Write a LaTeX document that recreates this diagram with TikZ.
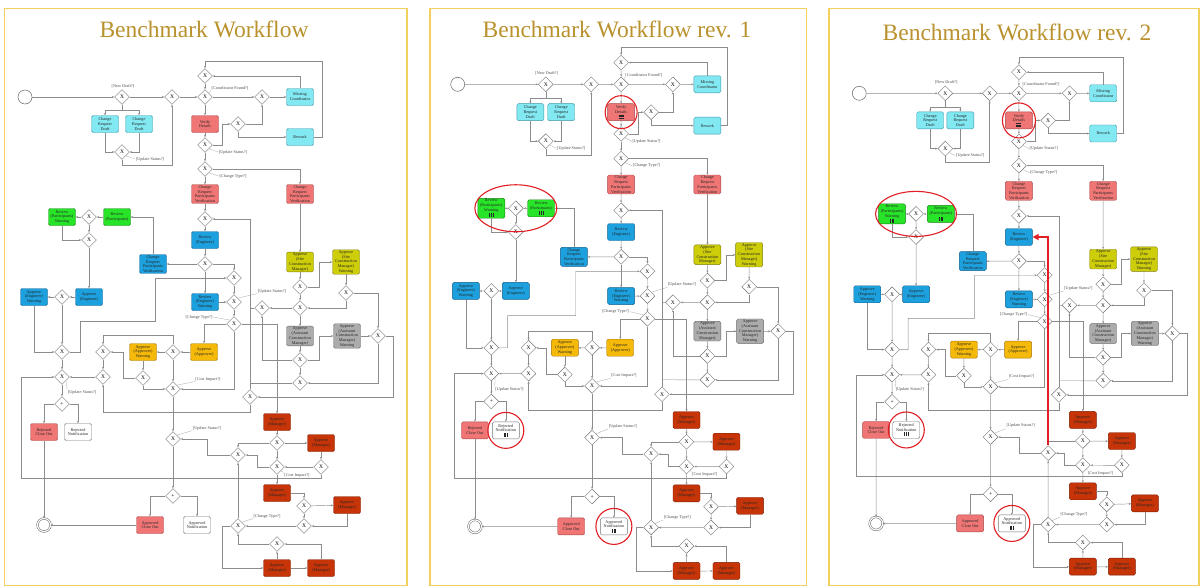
\documentclass[tikz,border=0pt]{standalone}
\usepackage{fontspec}
\setmainfont{Liberation Serif}
\usepackage{tikz}
\usetikzlibrary{shapes.geometric,arrows.meta}

\definecolor{titlegold}{RGB}{185,145,45}
\definecolor{framegold}{RGB}{242,208,95}
\definecolor{cyanf}{RGB}{130,232,242}
\definecolor{cyand}{RGB}{60,150,165}
\definecolor{salmonf}{RGB}{240,118,118}
\definecolor{salmond}{RGB}{165,70,70}
\definecolor{greenf}{RGB}{40,228,40}
\definecolor{greend}{RGB}{25,130,25}
\definecolor{bluef}{RGB}{28,160,222}
\definecolor{blued}{RGB}{20,95,140}
\definecolor{olivef}{RGB}{205,205,10}
\definecolor{olived}{RGB}{125,125,10}
\definecolor{greyf}{RGB}{172,172,172}
\definecolor{greyd}{RGB}{105,105,105}
\definecolor{orangef}{RGB}{245,185,10}
\definecolor{oranged}{RGB}{165,115,10}
\definecolor{rustf}{RGB}{198,52,8}
\definecolor{rustd}{RGB}{125,30,5}
\definecolor{hired}{RGB}{225,30,35}

\tikzset{
  task/.style={rounded corners=1.5pt, line width=0.4pt, minimum width=27, minimum height=17,
    inner sep=0.8pt, align=center, font=\fontsize{4.2}{4.8}\selectfont, text=black!85},
  tcyan/.style={task, draw=cyand, fill=cyanf},
  tsalmon/.style={task, draw=salmond, fill=salmonf},
  tgreen/.style={task, draw=greend, fill=greenf},
  tblue/.style={task, draw=blued, fill=bluef},
  tolive/.style={task, draw=olived, fill=olivef},
  tgrey/.style={task, draw=greyd, fill=greyf},
  torange/.style={task, draw=oranged, fill=orangef},
  trust/.style={task, draw=rustd, fill=rustf},
  twhite/.style={task, draw=black!55, fill=white},
  gate/.style={diamond, draw=black!55, fill=white, line width=0.4pt, minimum size=15,
    inner sep=0pt, font=\fontsize{5.5}{5.5}\selectfont},
  startev/.style={circle, draw=black!60, line width=0.5pt, minimum size=14, fill=white},
  endevent/.style={circle, draw=black!60, line width=0.5pt, double=white,
    double distance=1.2pt, minimum size=13},
  flow/.style={draw=black!45, line width=0.45pt, -{Stealth[length=2.4pt,width=2pt]}},
  link/.style={draw=black!45, line width=0.45pt},
  lbl/.style={font=\fontsize{4.2}{4.2}\selectfont, text=black!70, inner sep=0.5pt},
  leader/.style={draw=black!35, line width=0.3pt},
  wframe/.style={draw=framegold, line width=1.2pt},
  wtitle/.style={font=\fontsize{23.5}{23.5}\selectfont, text=titlegold},
  hl/.style={draw=hired, line width=1.1pt},
  redflow/.style={draw=hired, line width=1.6pt, -{Triangle[length=6pt,width=6pt]}},
}

% task markers, empty in the first workflow
\newcommand{\parmark}{}
\newcommand{\seqmark}{}
\newcommand{\parbars}{\rule{0.7pt}{4pt}\hspace{1pt}\rule{0.7pt}{4pt}\hspace{1pt}\rule{0.7pt}{4pt}}
\newcommand{\seqbars}{\vbox{\hrule width 5pt height 0.6pt\vskip 0.9pt\hrule width 5pt height 0.6pt\vskip 0.9pt\hrule width 5pt height 0.6pt}}

\newcommand{\drawworkflow}{%
  % draft / coordinator
  \node[startev] (start) at (25,97) {};
  \node[gate] (g1) at (122,97) {X};
  \node[gate] (g2) at (172,97) {X};
  \node[gate] (g3) at (205,97) {X};
  \node[gate] (g4) at (205,76) {X};
  \node[gate] (g5) at (262,97) {X};
  \node[tcyan] (mcoord) at (300,97) {Missing\\Coordinator};
  \node[tcyan] (crd1) at (105,124) {Change\\Request\\Draft};
  \node[tcyan] (crd2) at (139,124) {Change\\Request\\Draft};
  \node[tsalmon] (verify) at (205,124) {Verify\\Details\seqmark};
  \node[gate] (g6) at (238,124) {X};
  \node[tcyan] (rework) at (300,137) {Rework};
  \node[gate] (g7) at (205,145) {X};
  \node[gate] (g8) at (122,152) {X};
  \node[gate] (g9) at (205,169) {X};
  \node[tsalmon] (crpva) at (205,194) {Change\\Request\\Participants\\Verification};
  \node[tsalmon] (crpvb) at (300,194) {Change\\Request\\Participants\\Verification};
  % participants / engineer
  \node[tgreen] (revpw) at (62,217) {Review\\(Participants)\\Warning\parmark};
  \node[gate] (p1) at (89,217) {X};
  \node[tgreen] (revp) at (117,217) {Review\\(Participants)\parmark};
  \node[gate] (p2) at (89,240) {X};
  \node[gate] (h1) at (205,219) {X};
  \node[tblue] (reveng) at (205,240) {Review\\(Engineer)};
  \node[gate] (h2) at (205,264) {X};
  \node[tblue] (crpvc) at (153,264) {Change\\Request\\Participants\\Verification};
  \node[gate] (h3) at (234,278) {X};
  \node[tblue] (revengw) at (205,302) {Review\\(Engineer)\\Warning};
  \node[gate] (h4) at (234,302) {X};
  \node[gate] (h5) at (234,324) {X};
  \node[tblue] (appengw) at (34,297) {Approve\\(Engineer)\\Warning};
  \node[gate] (e1) at (62,297) {X};
  \node[tblue] (appeng) at (89,297) {Approve\\(Engineer)};
  \node[gate] (e2) at (62,352) {X};
  \node[gate] (e3) at (62,377) {X};
  \node[gate] (plusr) at (62,404) {+};
  \node[tsalmon] (rejclose) at (44,432) {Rejected\\Close Out};
  \node[twhite] (rejnote) at (78,432) {Rejected\\Notification\parmark};
  \node[endevent] (finish) at (44,525) {};
  % site / assistant construction manager
  \node[tolive] (appsite) at (300,262) {Approve\\(Site\\Construction\\Manager)};
  \node[tolive] (appsitew) at (346,262) {Approve\\(Site\\Construction\\Manager)\\Warning};
  \node[gate] (s1) at (300,287) {X};
  \node[gate] (s2) at (346,293) {X};
  \node[gate] (s3) at (300,308) {X};
  \node[gate] (s4) at (262,308) {X};
  \node[tgrey] (appasst) at (300,336) {Approve\\(Assistant\\Construction\\Manager)};
  \node[tgrey] (appasstw) at (347,336) {Approve\\(Assistant\\Construction\\Manager)\\Warning};
  \node[gate] (s5) at (378,336) {X};
  \node[gate] (s6) at (300,360) {X};
  \node[gate] (s7) at (300,383) {X};
  \node[gate] (s8) at (250,397) {X};
  % approver
  \node[gate] (a1) at (103,352) {X};
  \node[torange] (appaprw) at (143,352) {Approve\\(Approver)\\Warning};
  \node[gate] (a2) at (173,352) {X};
  \node[torange] (appapr) at (204,352) {Approve\\(Approver)};
  \node[gate] (a3) at (103,377) {X};
  \node[gate] (a4) at (143,378) {X};
  \node[gate] (a5) at (173,389) {X};
  \node[gate] (a6) at (173,439) {X};
  \node[gate] (plusa) at (173,496) {+};
  \node[tsalmon] (appclose) at (150,525) {Approved\\Close Out};
  \node[twhite] (appnote) at (197,525) {Approved\\Notification\parmark};
  % manager
  \node[trust] (am1) at (277,422) {Approve\\(Manager)};
  \node[gate] (j1) at (277,443) {X};
  \node[trust] (am2) at (321,443) {Approve\\(Manager)};
  \node[gate] (j2) at (238,455) {X};
  \node[gate] (j4) at (277,467) {X};
  \node[gate] (j3) at (321,467) {X};
  \node[trust] (am3) at (277,493) {Approve\\(Manager)};
  \node[gate] (k1) at (304,506) {X};
  \node[trust] (am4) at (347,505) {Approve\\(Manager)};
  \node[gate] (k2) at (304,526) {X};
  \node[gate] (j5) at (238,526) {X};
  \node[gate] (k3) at (277,544) {X};
  \node[trust] (am5) at (277,568) {Approve\\(Manager)};
  \node[trust] (am6) at (321,568) {Approve\\(Manager)};
  % conditions
  \node[lbl] (lnew) at (123,86) {[New Draft?]};
  \node[lbl] (lcoord) at (230,88) {[Coordinator Found?]};
  \node[lbl] (lupd1) at (233,152) {[Update Status?]};
  \node[lbl] (lupd2) at (150,159) {[Update Status?]};
  \node[lbl] (lct1) at (233,176) {[Change Type?]};
  \node[lbl] (lupd3) at (272,291) {[Update Status?]};
  \node[lbl] (lct2) at (199,317) {[Change Type?]};
  \node[lbl] (lcost1) at (208,379) {[Cost Impact?]};
  \node[lbl] (lupd4) at (82,392) {[Update Status?]};
  \node[lbl] (lupd5) at (207,428) {[Update Status?]};
  \node[lbl] (lcost2) at (297,475) {[Cost Impact?]};
  \node[lbl] (lct3) at (267,516) {[Change Type?]};
  \draw[leader] (g3.north east) -- (lcoord.south west);
  \draw[leader] (g7.south east) -- (lupd1.west);
  \draw[leader] (g8.south east) -- (lupd2.west);
  \draw[leader] (g9.south east) -- (lct1.west);
  \draw[leader] (h4.north east) -- (lupd3.south west);
  \draw[leader] (h5.north west) -- (lct2.east);
  \draw[leader] (a5.north east) -- (lcost1.south west);
  \draw[leader] (e3.south east) -- (lupd4.north west);
  \draw[leader] (a6.north east) -- (lupd5.south west);
  \draw[leader] (j4.south east) -- (lcost2.north west);
  \draw[leader] (j5.north east) -- (lct3.south west);
  % sequence flows
  \draw[flow] (start) -- (g1);
  \draw[flow] (g1) -- (g2);
  \draw[flow] (g2) -- (g3);
  \draw[flow] (g3) -- (g5);
  \draw[flow] (g5) -- (mcoord);
  \draw[flow] (g1.south) -- ++(0,6) -| (crd1.north);
  \draw[flow] (g1.south) -- ++(0,6) -| (crd2.north);
  \draw[flow] (crd1.south) |- (g8.west);
  \draw[flow] (crd2.south) |- (g8.east);
  \draw[flow] (g8.south) -- ++(0,6) -| (g2.south);
  \draw[flow] (g4) -- (g3);
  \draw[flow] (mcoord.north) |- (g4.east);
  \draw[flow] (rework.east) -| (322,61) -| (g4.north);
  \draw[flow] (g3) -- (verify);
  \draw[flow] (verify) -- (g7);
  \draw[flow] (g7.east) -- ++(10,0) |- (g6.west);
  \draw[flow] (g6.east) -| (g5.south);
  \draw[flow] (g6.south) |- (rework.west);
  \draw[flow] (g7) -- (g9);
  \draw[flow] (g9) -- (crpva);
  \draw[flow] (g9.east) -| (crpvb.north);
  \draw[flow] (crpva) -- (h1);
  \draw[flow] (h1) -- (reveng);
  \draw[flow] (reveng) -- (h2);
  \draw[flow] (h2) -- (crpvc);
  \draw[flow] (h2) -- (revengw);
  \draw[flow] (h2.east) -| (h3.north);
  \draw[flow] (revengw) -- (h4);
  \draw[flow] (h3) -- (h4);
  \draw[flow] (h4) -- (h5);
  \draw[flow] (crpvc.north) |- (revp.east);
  \draw[flow] (revp) -- (p1);
  \draw[flow] (p1) -- (revpw);
  \draw[flow] (revpw.south) |- (p2.west);
  \draw[flow] (p1) -- (p2);
  \draw[flow] (p2) -- (appeng);
  \draw[flow] (appeng) -- (e1);
  \draw[flow] (e1) -- (appengw);
  \draw[flow] (e1) -- (e2);
  \draw[flow] (appengw.south) |- (e2.west);
  \draw[flow] (e2.east) -- (80,352) -- (80,321) -- (155,321) |- (h3.west);
  \draw[flow] (e2) -- (e3);
  \draw[flow] (e3) -- (plusr);
  \draw[flow] (plusr.west) -| (rejclose.north);
  \draw[flow] (plusr.east) -| (rejnote.north);
  \draw[flow] (rejclose) -- (finish);
  \draw[flow] (crpvb) -- (appsite);
  \draw[flow] (appsite) -- (s1);
  \draw[flow] (s1.east) -- ++(12,0) |- (appsitew.west);
  \draw[flow] (appsitew) -- (s2);
  \draw[flow] (s2.south) |- (s3.east);
  \draw[flow] (s1) -- (s3);
  \draw[flow] (s2.east) -| (s5.north);
  \draw[flow] (s3) -- (s4);
  \draw[flow] (s3) -- (appasst);
  \draw[flow] (appasst) -- (s6);
  \draw[flow] (s6.east) -- ++(12,0) |- (appasstw.west);
  \draw[flow] (appasstw) -- (s5);
  \draw[flow] (s6) -- (s7);
  \draw[flow] (s5.south) |- (s7.east);
  \draw[flow] (s6.west) -| (s4.south);
  \draw[link] (s4.west) -- (250,308);
  \draw[link] (s7.west) -- (250,383);
  \draw[flow] (s8.north) |- (h1.east);
  \draw[flow] (s5.east) -- ++(8,0) |- (s8.east);
  \draw[flow] (s8.south) -- ++(0,8) -| (a3.south);
  \draw[flow] (appapr) -- (a2);
  \draw[flow] (a2) -- (appaprw);
  \draw[flow] (appaprw) -- (a4);
  \draw[flow] (a4.west) -- ++(-12,0) |- (a1.east);
  \draw[flow] (a2.north) -- ++(0,-9) -| (a1.north);
  \draw[flow] (a1) -- (a3);
  \draw[flow] (a3) -- (e3);
  \draw[flow] (a4.south) |- (a5.west);
  \draw[flow] (a2) -- (a5);
  \draw[flow] (h5.south) |- (a5.east);
  \draw[flow] (h5.west) -| (appapr.north);
  \draw[flow] (h5.east) -| (am1.north);
  \draw[flow] (a5) -- (a6);
  \draw[flow] (a6) -- (plusa);
  \draw[flow] (plusa.west) -| (appclose.north);
  \draw[flow] (plusa.east) -| (appnote.north);
  \draw[flow] (appclose) -- (finish);
  \draw[flow] (am1) -- (j1);
  \draw[flow] (j1) -- (am2);
  \draw[flow] (j1.west) -| (j2.north);
  \draw[flow] (am2) -- (j3);
  \draw[flow] (j3) -- (j4);
  \draw[flow] (j1) -- (j4);
  \draw[flow] (j4.west) -- ++(-12,0) |- (j2.east);
  \draw[flow] (j3.south) |- (21,478) |- (e3.west);
  \draw[flow] (j2.west) -- ++(-23.5,0) |- (a6.east);
  \draw[flow] (j4) -- (am3);
  \draw[flow] (am3.east) -| (k1.north);
  \draw[flow] (k1) -- (am4);
  \draw[flow] (am4.south) |- (k2.east);
  \draw[flow] (k1) -- (k2);
  \draw[flow] (k2) -- (j5);
  \draw[flow] (k3.west) -| (j5.south);
  \draw[flow] (j5) -- (j2);
  \draw[flow] (j5.west) -- ++(-8,0) |- (am5.west);
  \draw[flow] (am5) -- (am6);
  \draw[flow] (am5) -- (k3);
  \draw[flow] (am6.north) |- (k3.east);
}

\begin{document}
\begin{tikzpicture}[x=1pt,y=-1pt]
  \useasboundingbox (0,0) rectangle (1202,587);
  % frames and titles
  \draw[wframe] (4.5,8.3) rectangle (407,585.7);
  \draw[wframe] (430,8.3) rectangle (806.7,585.7);
  \draw[wframe] (829,8.3) rectangle (1199,585.7);
  \node[wtitle] (t1) at (204,29) {Benchmark Workflow};
  \node[wtitle] (t2) at (617,29) {Benchmark Workflow rev. 1};
  \node[wtitle] (t3) at (1017,32) {Benchmark Workflow rev. 2};

  \begin{scope}[name prefix=w1-]
    \drawworkflow
  \end{scope}

  \begin{scope}[shift={(435,-15.9)}, xscale=0.908, yscale=1.033, name prefix=w2-]
    \renewcommand{\parmark}{\\\parbars}%
    \renewcommand{\seqmark}{\\\seqbars}%
    \drawworkflow
  \end{scope}

  \begin{scope}[shift={(837.1,-4.2)}, xscale=0.887, yscale=1.005, name prefix=w3-]
    \renewcommand{\parmark}{\\\parbars}%
    \renewcommand{\seqmark}{\\\seqbars}%
    \drawworkflow
  \end{scope}

  % changes marked in rev. 1
  \draw[hl] (w2-verify) ellipse (16 and 16.5);
  \draw[hl] (w2-p1) ellipse (41 and 23.5);
  \draw[hl] (w2-rejnote) circle (18);
  \draw[hl] (w2-appnote) circle (18);
  % changes marked in rev. 2
  \draw[hl] (w3-verify) ellipse (16.5 and 17.5);
  \draw[hl] (w3-p1) ellipse (40.5 and 22.5);
  \draw[hl] (w3-rejnote) circle (18);
  \draw[hl] (w3-appnote) circle (18);
  \draw[redflow] (w3-j2.north) |- (w3-reveng.east);
\end{tikzpicture}
\end{document}
